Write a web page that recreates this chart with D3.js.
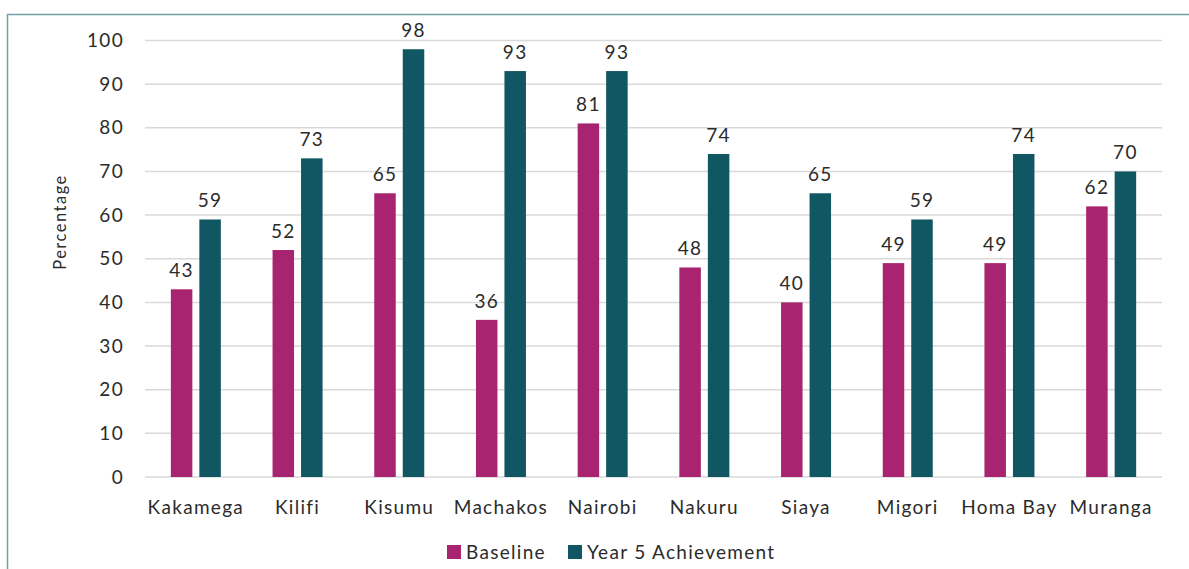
<!DOCTYPE html>
<html>
<head>
<meta charset="utf-8">
<script src="https://cdn.jsdelivr.net/npm/d3@7"></script>
<style>
  body { margin: 0; background: #fff; }
  svg text { font-family: "Lato", "Open Sans", sans-serif; font-weight: 400; fill: #2b2b2b; letter-spacing: 1.3px; }
</style>
</head>
<body>
<svg id="chart" width="1189" height="569"></svg>
<script>
// Chart data
const counties = ["Kakamega", "Kilifi", "Kisumu", "Machakos", "Nairobi", "Nakuru", "Siaya", "Migori", "Homa Bay", "Muranga"];
const baseline = [43, 52, 65, 36, 81, 48, 40, 49, 49, 62];
const year5 = [59, 73, 98, 93, 93, 74, 65, 59, 74, 70];
const seriesNames = ["Baseline", "Year 5 Achievement"];
const seriesColors = ["#a82470", "#115663"];
const yTicks = [0, 10, 20, 30, 40, 50, 60, 70, 80, 90, 100];

const svg = d3.select("#chart");
const fontSize = 19;

// Frame (top and left edges)
svg.append("path")
    .attr("d", "M7.5,569 V14.5 H1189")
    .attr("fill", "none")
    .attr("stroke", "#75a0a7")
    .attr("stroke-width", 1.5);

const x = d3.scaleBand().domain(counties).range([145, 1162]).padding(0);
const y = d3.scaleLinear().domain([0, 100]).range([477, 40.5]);

// Gridlines
svg.append("g")
    .selectAll("line")
    .data(yTicks)
    .enter()
    .append("line")
    .attr("x1", 145)
    .attr("x2", 1162)
    .attr("y1", d => y(d))
    .attr("y2", d => y(d))
    .attr("stroke", "#d9d9d9")
    .attr("stroke-width", 1.5);

// Y tick labels
svg.append("g")
    .selectAll("text")
    .data(yTicks)
    .enter()
    .append("text")
    .attr("x", 124)
    .attr("y", d => y(d))
    .attr("dy", "0.35em")
    .attr("text-anchor", "end")
    .style("font-size", fontSize + "px")
    .text(d => d);

// Y axis title
svg.append("text")
    .attr("transform", "translate(66,222) rotate(-90)")
    .attr("text-anchor", "middle")
    .style("font-size", "16.5px")
    .style("letter-spacing", "1.5px")
    .text("Percentage");

const barW = 21.5;
const gap = 7;
const rows = counties.map((c, i) => ({ county: c, values: [baseline[i], year5[i]] }));

const groups = svg.append("g")
    .selectAll("g")
    .data(rows)
    .enter()
    .append("g")
    .attr("transform", d => `translate(${x(d.county) + x.bandwidth() / 2},0)`);

groups.selectAll("rect")
    .data(d => d.values)
    .enter()
    .append("rect")
    .attr("x", (v, k) => k === 0 ? -gap / 2 - barW : gap / 2)
    .attr("y", v => y(v))
    .attr("width", barW)
    .attr("height", v => y(0) - y(v))
    .attr("fill", (v, k) => seriesColors[k]);

groups.selectAll("text.val")
    .data(d => d.values)
    .enter()
    .append("text")
    .attr("class", "val")
    .attr("x", (v, k) => k === 0 ? -gap / 2 - barW / 2 : gap / 2 + barW / 2)
    .attr("y", v => y(v) - 12)
    .attr("text-anchor", "middle")
    .style("font-size", fontSize + "px")
    .text(v => v);

// Category labels
svg.append("g")
    .selectAll("text")
    .data(counties)
    .enter()
    .append("text")
    .attr("x", d => x(d) + x.bandwidth() / 2)
    .attr("y", 514)
    .attr("text-anchor", "middle")
    .style("font-size", fontSize + "px")
    .text(d => d);

// Legend
const legendPos = [447, 568];
const legend = svg.append("g")
    .selectAll("g")
    .data(seriesNames)
    .enter()
    .append("g")
    .attr("transform", (d, i) => `translate(${legendPos[i]},545)`);

legend.append("rect")
    .attr("width", 14)
    .attr("height", 14)
    .attr("fill", (d, i) => seriesColors[i]);

legend.append("text")
    .attr("x", 19)
    .attr("y", 7)
    .attr("dy", "0.35em")
    .style("font-size", fontSize + "px")
    .text(d => d);
</script>
</body>
</html>
